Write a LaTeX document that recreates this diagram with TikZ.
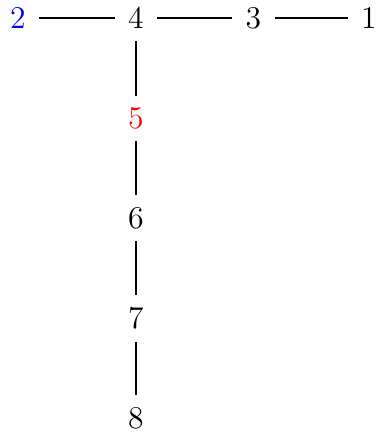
\documentclass[tikz,border=0pt]{standalone}
\begin{document}
\begin{tikzpicture}[x=0.3788pt,y=-0.3788pt,
  vtx/.style={inner xsep=5pt, inner ysep=4.4pt, font=\fontsize{12}{14}\selectfont},
  edge/.style={draw=black, line width=0.4pt}]
\useasboundingbox (0,0) rectangle (376,432);
\node[vtx, text=blue] (n2) at (18,18) {2};
\node[vtx] (n4) at (136,18) {4};
\node[vtx] (n3) at (253.5,18) {3};
\node[vtx] (n1) at (369,18) {1};
\node[vtx, text=red] (n5) at (136,118.5) {5};
\node[vtx] (n6) at (136,218) {6};
\node[vtx] (n7) at (136,318.5) {7};
\node[vtx] (n8) at (136,418) {8};
\draw[edge] (n2) -- (n4);
\draw[edge] (n4) -- (n3);
\draw[edge] (n3) -- (n1);
\draw[edge] (n4) -- (n5);
\draw[edge] (n5) -- (n6);
\draw[edge] (n6) -- (n7);
\draw[edge] (n7) -- (n8);
\end{tikzpicture}
\end{document}
